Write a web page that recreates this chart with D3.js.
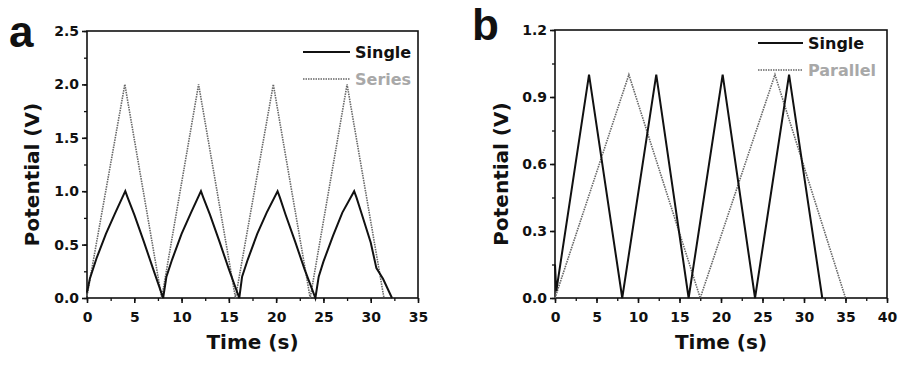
<!DOCTYPE html>
<html>
<head>
<meta charset="utf-8">
<script src="https://cdn.jsdelivr.net/npm/d3@7/dist/d3.min.js"></script>
<style>
  html, body { margin: 0; padding: 0; background: #fff; }
  svg { display: block; font-family: "DejaVu Sans", Arial, sans-serif; }
</style>
</head>
<body>
<svg id="chart" width="899" height="367"></svg>
<script>
// Panel a: single cell vs. two cells in series (galvanostatic charge/discharge)
const singleA_t = [0, 0.3, 1, 2, 3, 4.05, 4.3, 5, 6, 7, 8.05,
  8.4, 9, 10, 11, 12.05, 12.3, 13, 14, 15, 16.1,
  16.4, 17, 18, 19, 20.15, 20.4, 21, 22, 23, 24.15,
  24.5, 25, 26, 27, 28.25, 28.5, 29, 30, 30.6, 31.3, 32.25];
const singleA_v = [0.05, 0.18, 0.37, 0.6, 0.8, 1.0, 0.94, 0.78, 0.53, 0.27, 0.0,
  0.2, 0.36, 0.6, 0.8, 1.0, 0.94, 0.78, 0.53, 0.27, 0.0,
  0.2, 0.36, 0.6, 0.8, 1.0, 0.94, 0.78, 0.53, 0.27, 0.0,
  0.2, 0.34, 0.58, 0.8, 1.0, 0.94, 0.8, 0.52, 0.28, 0.18, 0.0];
const seriesA_t = [0, 4.0, 7.9, 11.8, 15.7, 19.7, 23.6, 27.5, 31.4];
const seriesA_v = [0.02, 2.0, 0.0, 2.0, 0.0, 2.0, 0.0, 2.0, 0.0];

// Panel b: single cell vs. two cells in parallel
const singleB_t = [0, 0.15, 4.1, 8.1, 12.2, 16.1, 20.2, 24.1, 28.2, 32.2];
const singleB_v = [0.15, 0.03, 1.0, 0.0, 1.0, 0.0, 1.0, 0.0, 1.0, 0.0];
const parallelB_t = [0, 8.9, 17.5, 26.5, 35.0];
const parallelB_v = [0.0, 1.0, 0.0, 1.0, 0.0];

// Tick values
const xTicksA = [0, 5, 10, 15, 20, 25, 30, 35];
const yTicksA = [0.0, 0.5, 1.0, 1.5, 2.0, 2.5];
const xTicksB = [0, 5, 10, 15, 20, 25, 30, 35, 40];
const yTicksB = [0.0, 0.3, 0.6, 0.9, 1.2];

const xLabel = "Time (s)";
const yLabel = "Potential (V)";

const FONT = "'DejaVu Sans', Arial, sans-serif";
const svg = d3.select("#chart");

function zip(ts, vs) { return ts.map((t, i) => [t, vs[i]]); }

function drawPanel(cfg) {
  const g = svg.append("g");
  const x = d3.scaleLinear().domain(cfg.xDomain).range([cfg.left, cfg.right]);
  const y = d3.scaleLinear().domain(cfg.yDomain).range([cfg.bottom, cfg.top]);

  // minor ticks
  const xMinor = d3.range(cfg.xDomain[0], cfg.xDomain[1] + 1e-9, cfg.xMinorStep);
  const yMinor = d3.range(cfg.yDomain[0], cfg.yDomain[1] + 1e-9, cfg.yMinorStep);
  g.append("g").attr("transform", `translate(0,${cfg.bottom})`)
    .call(d3.axisBottom(x).tickValues(xMinor).tickSize(3).tickFormat(""))
    .call(a => a.select(".domain").remove())
    .selectAll("line").attr("stroke", "#111").attr("stroke-width", 1.3);
  g.append("g").attr("transform", `translate(${cfg.left},0)`)
    .call(d3.axisLeft(y).tickValues(yMinor).tickSize(3).tickFormat(""))
    .call(a => a.select(".domain").remove())
    .selectAll("line").attr("stroke", "#111").attr("stroke-width", 1.3);

  // major ticks + labels
  const xa = g.append("g").attr("transform", `translate(0,${cfg.bottom})`)
    .call(d3.axisBottom(x).tickValues(cfg.xTicks).tickSize(5).tickPadding(9).tickFormat(d3.format("d")));
  xa.select(".domain").remove();
  xa.selectAll("line").attr("stroke", "#111").attr("stroke-width", 1.6);
  xa.selectAll("text").attr("font-size", 14).attr("font-weight", "bold")
    .attr("fill", "#111").attr("font-family", FONT);

  const ya = g.append("g").attr("transform", `translate(${cfg.left},0)`)
    .call(d3.axisLeft(y).tickValues(cfg.yTicks).tickSize(5).tickPadding(3).tickFormat(d3.format(".1f")));
  ya.select(".domain").remove();
  ya.selectAll("line").attr("stroke", "#111").attr("stroke-width", 1.6);
  ya.selectAll("text").attr("font-size", 14).attr("font-weight", "bold")
    .attr("fill", "#111").attr("font-family", FONT);

  // frame
  g.append("rect")
    .attr("x", cfg.left).attr("y", cfg.top)
    .attr("width", cfg.right - cfg.left).attr("height", cfg.bottom - cfg.top)
    .attr("fill", "none").attr("stroke", "#111").attr("stroke-width", 1.6);

  const line = d3.line().x(d => x(d[0])).y(d => y(d[1]));

  // gray dotted series first, solid black on top
  g.append("path").datum(zip(cfg.s2t, cfg.s2v))
    .attr("d", line).attr("fill", "none")
    .attr("stroke", "#666").attr("stroke-width", 1.6)
    .attr("stroke-dasharray", "1.5,1");
  g.append("path").datum(zip(cfg.s1t, cfg.s1v))
    .attr("d", line).attr("fill", "none")
    .attr("stroke", "#111").attr("stroke-width", 2)
    .attr("stroke-linejoin", "miter");

  // legend
  const lg = g.append("g");
  lg.append("line").attr("x1", cfg.legX).attr("x2", cfg.legX + cfg.legW)
    .attr("y1", cfg.legY).attr("y2", cfg.legY)
    .attr("stroke", "#111").attr("stroke-width", 2);
  lg.append("text").attr("x", cfg.legX + cfg.legW + 5).attr("y", cfg.legY + 6)
    .attr("font-size", 16).attr("font-weight", "bold").attr("fill", "#111")
    .text(cfg.s1Name);
  lg.append("line").attr("x1", cfg.legX).attr("x2", cfg.legX + cfg.legW)
    .attr("y1", cfg.legY + cfg.legGap).attr("y2", cfg.legY + cfg.legGap)
    .attr("stroke", "#666").attr("stroke-width", 1.6).attr("stroke-dasharray", "1.5,1");
  lg.append("text").attr("x", cfg.legX + cfg.legW + 5).attr("y", cfg.legY + cfg.legGap + 6)
    .attr("font-size", 16).attr("font-weight", "bold").attr("fill", "#a8a8a8")
    .text(cfg.s2Name);

  // axis titles
  g.append("text")
    .attr("x", (cfg.left + cfg.right) / 2).attr("y", 349)
    .attr("text-anchor", "middle").attr("font-size", 20).attr("font-weight", "bold")
    .attr("fill", "#111").text(xLabel);
  g.append("text")
    .attr("transform", `translate(${cfg.yTitleX},${(cfg.top + cfg.bottom) / 2 + 10}) rotate(-90)`)
    .attr("text-anchor", "middle").attr("font-size", 20).attr("font-weight", "bold")
    .attr("fill", "#111").text(yLabel);

  // panel letter
  g.append("text").attr("x", cfg.letterX).attr("y", cfg.letterY)
    .attr("font-size", 44).attr("font-weight", "bold").attr("fill", "#111")
    .attr("font-family", "Arial, 'Liberation Sans', sans-serif")
    .text(cfg.letter);
}

drawPanel({
  letter: "a", letterX: 9, letterY: 47,
  left: 87, right: 418, top: 31, bottom: 298,
  xDomain: [0, 35], yDomain: [0, 2.5],
  xTicks: xTicksA, yTicks: yTicksA, xMinorStep: 2.5, yMinorStep: 0.25,
  s1t: singleA_t, s1v: singleA_v, s1Name: "Single",
  s2t: seriesA_t, s2v: seriesA_v, s2Name: "Series",
  legX: 303, legY: 52, legW: 47, legGap: 27,
  yTitleX: 39
});

drawPanel({
  letter: "b", letterX: 472, letterY: 40,
  left: 555, right: 887, top: 30, bottom: 298,
  xDomain: [0, 40], yDomain: [0, 1.2],
  xTicks: xTicksB, yTicks: yTicksB, xMinorStep: 2.5, yMinorStep: 0.15,
  s1t: singleB_t, s1v: singleB_v, s1Name: "Single",
  s2t: parallelB_t, s2v: parallelB_v, s2Name: "Parallel",
  legX: 758, legY: 43, legW: 45, legGap: 27,
  yTitleX: 508
});
</script>
</body>
</html>
